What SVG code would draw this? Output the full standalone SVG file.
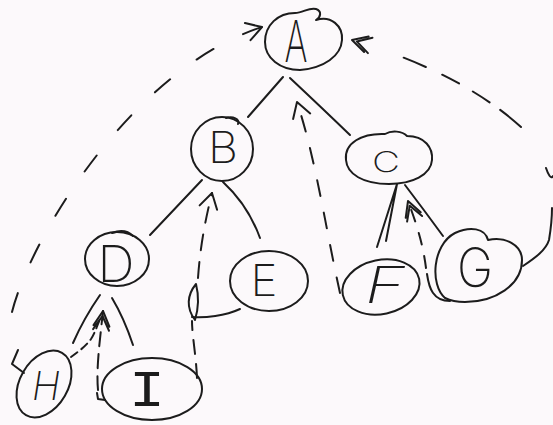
<svg xmlns="http://www.w3.org/2000/svg" width="553" height="425" viewBox="0 0 553 425">
  <style>
    .ink { fill: none; stroke: #1c1c1c; stroke-width: 2; stroke-linecap: round; stroke-linejoin: round; }
    .dash { fill: none; stroke: #1c1c1c; stroke-width: 2; stroke-linecap: round; }
    .lbl { font-family: Inter, Roboto, "Open Sans", "DejaVu Sans", sans-serif; font-weight: 200; fill: #1c1c1c; text-anchor: middle; }
    .mono { font-family: "Liberation Mono", "DejaVu Sans Mono", monospace; font-weight: 400; }
  </style>
  <defs>
    <marker id="chev" markerUnits="userSpaceOnUse" markerWidth="40" markerHeight="40" viewBox="-25 -20 40 40" refX="0" refY="0" orient="auto" overflow="visible">
      <path d="M-15,-9 L0,0 L-15,9" fill="none" stroke="#1c1c1c" stroke-width="2" stroke-linecap="round" stroke-linejoin="round"/>
    </marker>
    <marker id="chev2" markerUnits="userSpaceOnUse" markerWidth="40" markerHeight="40" viewBox="-25 -20 40 40" refX="0" refY="0" orient="auto" overflow="visible">
      <path d="M-15,-8 L0,0 L-15,8 M-19,-8 L-5,0 L-19,8" fill="none" stroke="#1c1c1c" stroke-width="2" stroke-linecap="round" stroke-linejoin="round"/>
    </marker>
  </defs>

  <rect width="553" height="425" fill="#fcf9fb"/>

  <!-- tree edges and threads -->
  <g id="connectors">
    <!-- solid parent/child edges -->
    <path class="ink" d="M283,77 L248,117"/>
    <path class="ink" d="M290,78 Q322,108 350,135"/>
    <path class="ink" d="M202,180 L150,235"/>
    <path class="ink" d="M223,182 Q248,205 260,238"/>
    <path class="ink" d="M377,247 L397,184 L386,241"/>
    <path class="ink" d="M405,185 Q424,210 443,236"/>
    <path class="ink" d="M100,295 Q84,318 73,343"/>
    <path class="ink" d="M112,298 Q124,318 133,345"/>

    <!-- H up to A -->
    <path class="ink" d="M18,350 L12,364 L24,373"/>
    <path class="dash" stroke-dasharray="20 33" d="M12,312 C30,240 130,70 262,27" marker-end="url(#chev)"/>

    <!-- F up to A -->
    <path class="dash" stroke-dasharray="16 17" d="M340,293 C326,230 316,160 297,102" marker-end="url(#chev)"/>

    <!-- G round the right side up to A -->
    <path class="ink" d="M523,266 C535,258 546,250 549,240 C551,228 552,218 552,208"/>
    <path class="ink" d="M546,168 C548,174 551,180 553,176"/>
    <path class="dash" stroke-dasharray="27 13 20 16 19 18 24 100" d="M521,127 Q460,72 352,40" marker-end="url(#chev2)"/>

    <!-- I (and E) up to B -->
    <path class="dash" stroke-dasharray="14 10" d="M197,378 C196,355 192,335 192,321"/>
    <path class="ink" d="M195,320 C186,308 187,295 196,284 C199,296 199,307 195,320"/>
    <path class="dash" stroke-dasharray="16 12" d="M198,278 C200,250 204,225 212,193" marker-end="url(#chev)"/>
    <path class="ink" d="M192,317 C205,318 225,316 240,309"/>

    <!-- G up to C -->
    <path class="ink" d="M450,301 C433,301 429,288 427,274"/>
    <path class="dash" stroke-dasharray="12 12" d="M426,268 C423,245 418,228 408,201" marker-end="url(#chev2)"/>

    <!-- I and H up to D -->
    <path class="ink" d="M105,400 L98,399 L97,393"/>
    <path class="dash" stroke-dasharray="14 8" d="M98,390 C96,368 100,340 103,311" marker-end="url(#chev2)"/>
    <path class="dash" stroke-dasharray="8 5" d="M71,357 C78,352 86,346 91,339 C95,333 97,326 100,319"/>
  </g>

  <g id="node-A">
    <path class="ink" d="M300,70 C280,70 265,58 265,42 C265,25 278,13 295,13 C303,13 309,7 316,9 C322,11 321,17 316,20 C331,15 343,26 342,40 C341,56 324,68 300,70 Z"/>
    <text class="lbl" x="296" y="62" font-size="58" textLength="23" lengthAdjust="spacingAndGlyphs">A</text>
  </g>

  <g id="node-B">
    <ellipse class="ink" cx="222" cy="149" rx="31" ry="32"/>
    <path class="ink" d="M226,118 C233,116 240,119 238,124"/>
    <text class="lbl" x="223" y="163" font-size="43" textLength="30" lengthAdjust="spacingAndGlyphs">B</text>
  </g>

  <g id="node-C">
    <path class="ink" d="M346,160 C344,143 362,133 385,134 C392,130 402,131 407,136 C425,136 433,148 432,160 C431,175 412,184 389,184 C363,184 347,174 346,160 Z"/>
    <text class="lbl" x="386" y="172" font-size="28" textLength="28" lengthAdjust="spacingAndGlyphs">C</text>
  </g>

  <g id="node-D">
    <ellipse class="ink" cx="117" cy="259" rx="32" ry="27"/>
    <path class="ink" d="M112,233 C120,230 128,231 133,236"/>
    <text class="lbl" x="116" y="282" font-size="51" textLength="37" lengthAdjust="spacingAndGlyphs">D</text>
  </g>

  <g id="node-E">
    <ellipse class="ink" cx="269" cy="281" rx="39" ry="30"/>
    <text class="lbl" x="264" y="296" font-size="44" textLength="27" lengthAdjust="spacingAndGlyphs">E</text>
  </g>

  <g id="node-F">
    <ellipse class="ink" cx="381" cy="287" rx="39" ry="27" transform="rotate(-12 381 287)"/>
    <text class="lbl" x="385" y="303" font-size="50" font-style="italic" textLength="40" lengthAdjust="spacingAndGlyphs">F</text>
  </g>

  <g id="node-G">
    <path class="ink" d="M445,298 C430,285 432,245 455,233 C470,226 485,228 488,240 C505,236 522,245 522,260 C522,285 495,302 465,302 C456,302 449,300 445,298 Z"/>
    <text class="lbl" x="475" y="287" font-size="54" textLength="36" lengthAdjust="spacingAndGlyphs">G</text>
  </g>

  <g id="node-H">
    <ellipse class="ink" cx="44" cy="384" rx="24" ry="36" transform="rotate(30 44 384)"/>
    <text class="lbl" x="46" y="400" font-size="39" font-style="italic" textLength="28" lengthAdjust="spacingAndGlyphs">H</text>
  </g>

  <g id="node-I">
    <ellipse class="ink" cx="152" cy="389" rx="50" ry="31"/>
    <text class="lbl mono" x="147" y="406" font-size="52" textLength="36" lengthAdjust="spacingAndGlyphs">I</text>
  </g>
</svg>
